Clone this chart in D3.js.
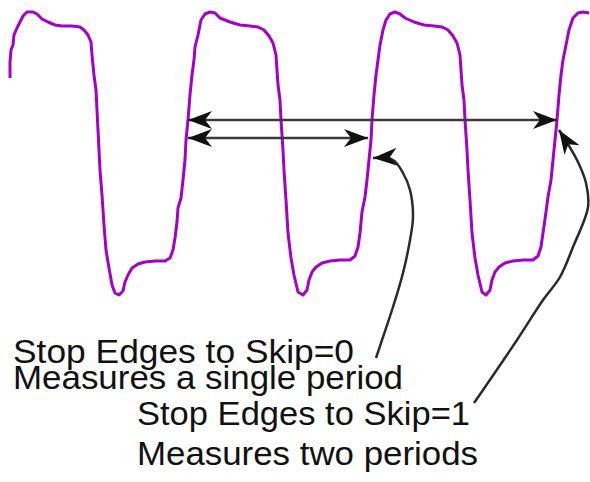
<!DOCTYPE html>
<html>
<head>
<meta charset="utf-8">
<script src="https://cdn.jsdelivr.net/npm/d3@7"></script>
<style>
  body { margin: 0; background: #fff; }
  svg { display: block; }
  .label { font-family: "Liberation Sans", Arial, sans-serif; font-size: 33px; fill: #111; }
</style>
</head>
<body>
<svg id="chart"></svg>
<script>
var width = 590;
var height = 482;

// scope trace, time in us, level in V
var traceTime = [
  0.10, 0.10, 0.11, 0.13, 0.14, 0.17, 0.20, 0.23, 0.27, 0.33, 0.37, 0.42, 0.48, 0.55, 0.62, 0.72, 0.80, 0.84, 0.88, 0.91,
  0.92, 0.94, 0.96, 0.97, 0.98, 0.99, 1.00, 1.02, 1.04, 1.06, 1.09, 1.12, 1.15, 1.19, 1.23, 1.25, 1.28, 1.32, 1.38, 1.45,
  1.55, 1.65, 1.70, 1.73, 1.75, 1.77, 1.78, 1.81, 1.83, 1.85, 1.86, 1.88, 1.90, 1.92, 1.94, 1.95, 1.98, 2.01, 2.05, 2.10,
  2.15, 2.20, 2.30, 2.40, 2.50, 2.58, 2.64, 2.69, 2.73, 2.76, 2.77, 2.78, 2.80, 2.81, 2.83, 2.84, 2.86, 2.88, 2.91, 2.94,
  2.98, 3.03, 3.07, 3.09, 3.12, 3.16, 3.22, 3.30, 3.40, 3.50, 3.55, 3.58, 3.60, 3.62, 3.65, 3.67, 3.69, 3.71, 3.72, 3.74,
  3.76, 3.78, 3.80, 3.83, 3.86, 3.90, 3.95, 4.00, 4.05, 4.14, 4.24, 4.34, 4.42, 4.48, 4.53, 4.57, 4.60, 4.61, 4.62, 4.64,
  4.65, 4.67, 4.68, 4.70, 4.72, 4.75, 4.78, 4.82, 4.86, 4.90, 4.92, 4.95, 4.99, 5.05, 5.13, 5.23, 5.33, 5.38, 5.41, 5.43,
  5.46, 5.48, 5.51, 5.53, 5.55, 5.57, 5.59, 5.61, 5.63, 5.66, 5.69, 5.73, 5.78, 5.83, 5.89
];
var traceLevel = [
  2.22, 2.38, 2.50, 2.55, 2.65, 2.72, 2.78, 2.84, 2.88, 2.88, 2.86, 2.81, 2.78, 2.75, 2.74, 2.74, 2.73, 2.70, 2.65, 2.58,
  2.45, 2.25, 2.10, 1.90, 1.70, 1.50, 1.30, 1.05, 0.75, 0.50, 0.32, 0.15, 0.07, 0.05, 0.09, 0.18, 0.25, 0.32, 0.36, 0.38,
  0.39, 0.39, 0.42, 0.50, 0.62, 0.78, 0.92, 1.02, 1.20, 1.40, 1.60, 1.80, 2.05, 2.25, 2.40, 2.53, 2.65, 2.80, 2.86, 2.88,
  2.87, 2.82, 2.78, 2.75, 2.74, 2.73, 2.70, 2.64, 2.57, 2.45, 2.30, 2.15, 2.00, 1.80, 1.50, 1.30, 1.00, 0.67, 0.42, 0.25,
  0.08, 0.05, 0.10, 0.20, 0.28, 0.33, 0.37, 0.39, 0.40, 0.40, 0.44, 0.53, 0.67, 0.88, 1.03, 1.20, 1.40, 1.60, 1.80, 2.05,
  2.25, 2.40, 2.55, 2.70, 2.80, 2.86, 2.88, 2.86, 2.82, 2.78, 2.75, 2.74, 2.73, 2.70, 2.64, 2.57, 2.45, 2.30, 2.15, 2.00,
  1.80, 1.50, 1.30, 1.00, 0.67, 0.42, 0.25, 0.08, 0.05, 0.10, 0.20, 0.28, 0.33, 0.37, 0.39, 0.40, 0.40, 0.44, 0.53, 0.67,
  0.88, 1.03, 1.20, 1.40, 1.60, 1.80, 2.05, 2.25, 2.40, 2.55, 2.70, 2.82, 2.87, 2.88, 2.87, 2.82
];

// measurement arrows (double headed), time span and level
var spanStart = [1.88, 1.88];
var spanEnd = [5.57, 3.68];
var spanLevel = [1.80, 1.62];

// pointer arrows from the labels up to the stop edges
var pointerTime = [
  [3.76, 3.82, 3.93, 4.03, 4.10, 4.13, 4.10, 4.03, 3.93, 3.73],
  [4.74, 5.17, 5.43, 5.60, 5.73, 5.88, 5.86, 5.77, 5.59]
];
var pointerLevel = [
  [-0.58, -0.40, -0.07, 0.27, 0.60, 0.83, 1.10, 1.27, 1.40, 1.42],
  [-1.03, -0.40, 0.00, 0.23, 0.53, 0.93, 1.17, 1.40, 1.70]
];

// labels: text, anchor time, baseline level, time width
var labelText = [
  "Stop Edges to Skip=0",
  "Measures a single period",
  "Stop Edges to Skip=1",
  "Measures two periods"
];
var labelTime = [0.13, 0.13, 1.37, 1.37];
var labelLevel = [-0.63, -0.89, -1.25, -1.65];
var labelSpan = [3.41, 3.90, 3.33, 3.41];

var svg = d3.select("#chart")
    .attr("width", width)
    .attr("height", height);

// scales
var xScale = d3.scaleLinear()
    .domain([0, 5.9])
    .range([0, 590]);

var yScale = d3.scaleLinear()
    .domain([0, 3])
    .range([300, 0]);

// arrowhead marker
svg.append("defs")
  .append("marker")
    .attr("id", "head")
    .attr("markerUnits", "userSpaceOnUse")
    .attr("viewBox", "-26 -10 28 20")
    .attr("refX", 0)
    .attr("refY", 0)
    .attr("markerWidth", 28)
    .attr("markerHeight", 20)
    .attr("orient", "auto-start-reverse")
  .append("path")
    .attr("d", "M0,0 L-24,-9 L-17,0 L-24,9 Z")
    .attr("fill", "#111");

// trace
var trace = d3.zip(traceTime, traceLevel);

svg.append("path")
    .datum(trace)
    .attr("fill", "none")
    .attr("stroke", "#a300c6")
    .attr("stroke-width", 3)
    .attr("stroke-linejoin", "round")
    .attr("d", d3.line()
      .x(d => xScale(d[0]))
      .y(d => yScale(d[1])));

// double headed span arrows
svg.selectAll(".span")
  .data(d3.range(spanStart.length))
  .join("line")
    .classed("span", true)
    .attr("x1", i => xScale(spanStart[i]))
    .attr("x2", i => xScale(spanEnd[i]))
    .attr("y1", i => yScale(spanLevel[i]))
    .attr("y2", i => yScale(spanLevel[i]))
    .attr("stroke", "#3a3a3a")
    .attr("stroke-width", 2.5)
    .attr("marker-start", "url(#head)")
    .attr("marker-end", "url(#head)");

// curved pointers
var pointerLine = d3.line()
    .curve(d3.curveCatmullRom)
    .x(d => xScale(d[0]))
    .y(d => yScale(d[1]));

svg.selectAll(".pointer")
  .data(pointerTime.map((ts, i) => d3.zip(ts, pointerLevel[i])))
  .join("path")
    .classed("pointer", true)
    .attr("fill", "none")
    .attr("stroke", "#2a2a2a")
    .attr("stroke-width", 2.5)
    .attr("d", pointerLine)
    .attr("marker-end", "url(#head)");

// labels
svg.selectAll(".label")
  .data(labelText)
  .join("text")
    .classed("label", true)
    .attr("x", (d, i) => xScale(labelTime[i]))
    .attr("y", (d, i) => yScale(labelLevel[i]))
    .attr("textLength", (d, i) => xScale(labelSpan[i]) - xScale(0))
    .attr("lengthAdjust", "spacingAndGlyphs")
    .text(d => d);
</script>
</body>
</html>
